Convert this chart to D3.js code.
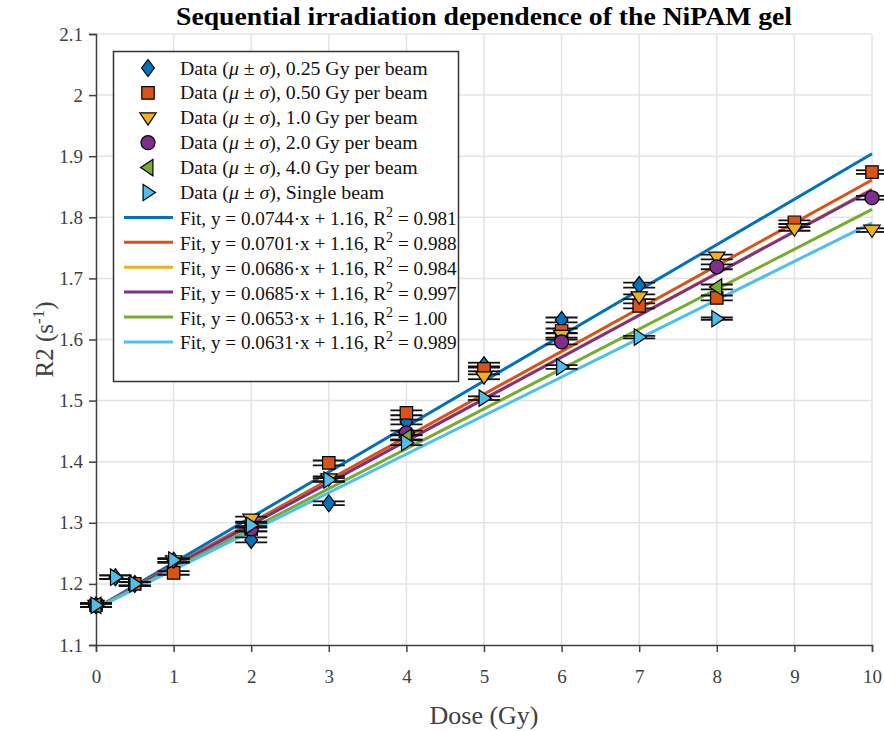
<!DOCTYPE html>
<html>
<head>
<meta charset="utf-8">
<script src="https://cdn.jsdelivr.net/npm/d3@7"></script>
<style>
	body { margin: 0; background: #fff; }
	svg text { font-family: "Liberation Serif", "Times New Roman", serif; }
</style>
</head>
<body>
<svg id="chart" width="884" height="731"></svg>
<script>

	// ---- data ----
	var seriesNames = [ '0.25 Gy per beam', '0.50 Gy per beam', '1.0 Gy per beam',
			'2.0 Gy per beam', '4.0 Gy per beam', 'Single beam' ],
		seriesColors = [ '#0072BD', '#D95319', '#EDB120', '#7E2F8E', '#77AC30', '#4DBEEE' ],
		seriesSymbols = [ 'diamond', 'square', 'triDown', 'circle', 'triLeft', 'triRight' ];

	var dose025 = [ 0, 0.25, 0.5, 1, 2, 3, 4, 5, 6, 7 ],
		r2025 = [ 1.165, 1.211, 1.200, 1.238, 1.272, 1.332, 1.465, 1.558, 1.632, 1.689 ],
		sd025 = [ 0.003, 0.003, 0.003, 0.003, 0.004, 0.003, 0.004, 0.004, 0.004, 0.004 ];

	var dose050 = [ 0, 0.5, 1, 2, 3, 4, 5, 6, 7, 8, 9, 10 ],
		r2050 = [ 1.165, 1.200, 1.218, 1.290, 1.398, 1.480, 1.552, 1.614, 1.655, 1.668, 1.792, 1.874 ],
		sd050 = [ 0.003, 0.003, 0.003, 0.004, 0.004, 0.004, 0.004, 0.004, 0.004, 0.004, 0.003, 0.003 ];

	var dose10 = [ 0, 1, 2, 3, 4, 5, 6, 7, 8, 9, 10 ],
		r210 = [ 1.165, 1.238, 1.306, 1.372, 1.440, 1.539, 1.607, 1.670, 1.735, 1.781, 1.779 ],
		sd10 = [ 0.003, 0.003, 0.004, 0.004, 0.004, 0.004, 0.004, 0.004, 0.004, 0.003, 0.003 ];

	var dose20 = [ 0, 2, 4, 6, 8, 10 ],
		r220 = [ 1.165, 1.290, 1.447, 1.596, 1.719, 1.832 ],
		sd20 = [ 0.003, 0.004, 0.004, 0.004, 0.004, 0.003 ];

	var dose40 = [ 0, 4, 8 ],
		r240 = [ 1.165, 1.440, 1.686 ],
		sd40 = [ 0.003, 0.004, 0.004 ];

	var doseSingle = [ 0, 0.25, 0.5, 1, 2, 3, 4, 5, 6, 7, 8 ],
		r2Single = [ 1.165, 1.211, 1.200, 1.239, 1.296, 1.370, 1.431, 1.504, 1.555, 1.604, 1.634 ],
		sdSingle = [ 0.003, 0.003, 0.003, 0.003, 0.004, 0.003, 0.004, 0.003, 0.003, 0.002, 0.002 ];

	var fitSlopes = [ 0.0744, 0.0701, 0.0686, 0.0685, 0.0653, 0.0631 ],
		fitIntercept = 1.16,
		fitR2 = [ '0.981', '0.988', '0.984', '0.997', '1.00', '0.989' ];

	var xTicks = [ 0, 1, 2, 3, 4, 5, 6, 7, 8, 9, 10 ],
		yTicks = [ 1.1, 1.2, 1.3, 1.4, 1.5, 1.6, 1.7, 1.8, 1.9, 2, 2.1 ];

	var allDose = [ dose025, dose050, dose10, dose20, dose40, doseSingle ],
		allR2 = [ r2025, r2050, r210, r220, r240, r2Single ],
		allSd = [ sd025, sd050, sd10, sd20, sd40, sdSingle ];

	// ---- layout ----
	var svg = d3.select( '#chart' ),
		plotLeft = 96, plotRight = 872, plotTop = 34, plotBottom = 645,
		axisColor = '#404040',
		capHalf = 16;

	var x = d3.scaleLinear().domain( [ 0, 10 ] ).range( [ plotLeft, plotRight ] ),
		y = d3.scaleLinear().domain( [ 1.1, 2.1 ] ).range( [ plotBottom, plotTop ] );

	/**
	 * marker path centred on 0,0
	 * @param	{String}	kind
	 * @returns	{String}
	 */
	function markerPath( kind ) {
		var p = d3.path(), r;
		switch ( kind ) {
			case 'diamond':
				r = 8.5;
				p.moveTo( 0, -r ); p.lineTo( r * 0.75, 0 ); p.lineTo( 0, r ); p.lineTo( -r * 0.75, 0 ); p.closePath();
				break;
			case 'square':
				r = 6.2;
				p.rect( -r, -r, 2 * r, 2 * r );
				break;
			case 'circle':
				p.arc( 0, 0, 7, 0, 2 * Math.PI );
				break;
			case 'triDown':
				r = 8.2;
				p.moveTo( -r, -r * 0.6 ); p.lineTo( r, -r * 0.6 ); p.lineTo( 0, r * 0.9 ); p.closePath();
				break;
			case 'triLeft':
				r = 8.2;
				p.moveTo( -r * 0.9, 0 ); p.lineTo( r * 0.6, -r ); p.lineTo( r * 0.6, r ); p.closePath();
				break;
			case 'triRight':
				r = 8.2;
				p.moveTo( r * 0.9, 0 ); p.lineTo( -r * 0.6, -r ); p.lineTo( -r * 0.6, r ); p.closePath();
				break;
		}
		return p.toString();
	}

	// ---- grid ----
	var grid = svg.append( 'g' ).attr( 'class', 'grid' );
	grid.selectAll( 'line.gx' )
		.data( xTicks.slice( 1 ) )
		.enter().append( 'line' )
		.attr( 'x1', function( d ) { return x( d ); } )
		.attr( 'x2', function( d ) { return x( d ); } )
		.attr( 'y1', plotTop ).attr( 'y2', plotBottom )
		.attr( 'stroke', '#e3e3e3' ).attr( 'stroke-width', 1.5 );
	grid.selectAll( 'line.gy' )
		.data( yTicks.slice( 1 ) )
		.enter().append( 'line' )
		.attr( 'y1', function( d ) { return y( d ); } )
		.attr( 'y2', function( d ) { return y( d ); } )
		.attr( 'x1', plotLeft ).attr( 'x2', plotRight )
		.attr( 'stroke', '#e3e3e3' ).attr( 'stroke-width', 1.5 );

	// ---- axes ----
	var xAxis = svg.append( 'g' )
		.attr( 'transform', 'translate(0,' + plotBottom + ')' )
		.call( d3.axisBottom( x ).tickValues( xTicks ).tickSize( 7 ).tickPadding( 18 ).tickFormat( d3.format( 'd' ) ) );
	var yAxis = svg.append( 'g' )
		.attr( 'transform', 'translate(' + plotLeft + ',0)' )
		.call( d3.axisLeft( y ).tickValues( yTicks ).tickSize( 7 ).tickPadding( 6 ).tickFormat( function( d ) { return String( +d.toFixed( 1 ) ); } ) );

	[ xAxis, yAxis ].forEach( function( ax ) {
		ax.select( '.domain' ).attr( 'stroke', axisColor ).attr( 'stroke-width', 1.5 );
		ax.selectAll( '.tick line' ).attr( 'stroke', axisColor ).attr( 'stroke-width', 1.5 );
		ax.selectAll( '.tick text' )
			.attr( 'fill', axisColor )
			.style( 'font-family', '"Liberation Serif", serif' )
			.style( 'font-size', '19px' );
	} );

	// ---- fit lines ----
	var fitLine = d3.line()
		.x( function( d ) { return x( d[ 0 ] ); } )
		.y( function( d ) { return y( d[ 1 ] ); } );

	svg.append( 'g' ).selectAll( 'path' )
		.data( fitSlopes )
		.enter().append( 'path' )
		.attr( 'd', function( s ) { return fitLine( [ [ 0, fitIntercept ], [ 10, fitIntercept + 10 * s ] ] ); } )
		.attr( 'fill', 'none' )
		.attr( 'stroke', function( s, i ) { return seriesColors[ i ]; } )
		.attr( 'stroke-width', 3 );

	// ---- data with error bars ----
	allDose.forEach( function( doses, si ) {
		var pts = doses.map( function( d, i ) {
				return { x: d, v: allR2[ si ][ i ], s: allSd[ si ][ i ] };
			} ),
			g = svg.append( 'g' ).attr( 'class', 'series-' + si ),
			eb = g.selectAll( 'g.eb' ).data( pts ).enter().append( 'g' );

		eb.append( 'line' )
			.attr( 'x1', function( d ) { return x( d.x ); } )
			.attr( 'x2', function( d ) { return x( d.x ); } )
			.attr( 'y1', function( d ) { return y( d.v - d.s ); } )
			.attr( 'y2', function( d ) { return y( d.v + d.s ); } );
		eb.append( 'line' )
			.attr( 'x1', function( d ) { return x( d.x ) - capHalf; } )
			.attr( 'x2', function( d ) { return x( d.x ) + capHalf; } )
			.attr( 'y1', function( d ) { return y( d.v - d.s ); } )
			.attr( 'y2', function( d ) { return y( d.v - d.s ); } );
		eb.append( 'line' )
			.attr( 'x1', function( d ) { return x( d.x ) - capHalf; } )
			.attr( 'x2', function( d ) { return x( d.x ) + capHalf; } )
			.attr( 'y1', function( d ) { return y( d.v + d.s ); } )
			.attr( 'y2', function( d ) { return y( d.v + d.s ); } );
		eb.selectAll( 'line' ).attr( 'stroke', '#111' ).attr( 'stroke-width', 1.8 );

		g.selectAll( 'path.mk' ).data( pts ).enter().append( 'path' )
			.attr( 'class', 'mk' )
			.attr( 'd', markerPath( seriesSymbols[ si ] ) )
			.attr( 'transform', function( d ) { return 'translate(' + x( d.x ) + ',' + y( d.v ) + ')'; } )
			.attr( 'fill', seriesColors[ si ] )
			.attr( 'stroke', '#000' )
			.attr( 'stroke-width', 1.2 );
	} );

	// ---- legend ----
	var legend = svg.append( 'g' ).attr( 'class', 'legend' ),
		rowY = 68, rowH = 24.9;

	legend.append( 'rect' )
		.attr( 'x', 113.5 ).attr( 'y', 51.5 ).attr( 'width', 345 ).attr( 'height', 330 )
		.attr( 'fill', '#fff' ).attr( 'stroke', '#333' ).attr( 'stroke-width', 1.5 );

	seriesNames.forEach( function( name, i ) {
		var cy = rowY + i * rowH,
			t;
		legend.append( 'path' )
			.attr( 'd', markerPath( seriesSymbols[ i ] ) )
			.attr( 'transform', 'translate(148,' + cy + ')' )
			.attr( 'fill', seriesColors[ i ] ).attr( 'stroke', '#000' ).attr( 'stroke-width', 1.2 );
		t = legend.append( 'text' )
			.attr( 'x', 180 ).attr( 'y', cy + 6.5 )
			.style( 'font-size', '19.8px' ).attr( 'fill', '#111' );
		t.append( 'tspan' ).text( 'Data (' );
		t.append( 'tspan' ).style( 'font-style', 'italic' ).text( 'μ' );
		t.append( 'tspan' ).text( ' ± ' );
		t.append( 'tspan' ).style( 'font-style', 'italic' ).text( 'σ' );
		t.append( 'tspan' ).text( '), ' + name );
	} );

	fitSlopes.forEach( function( s, i ) {
		var cy = rowY + ( i + 6 ) * rowH,
			t;
		legend.append( 'line' )
			.attr( 'x1', 124 ).attr( 'x2', 173 ).attr( 'y1', cy ).attr( 'y2', cy )
			.attr( 'stroke', seriesColors[ i ] ).attr( 'stroke-width', 3 );
		t = legend.append( 'text' )
			.attr( 'x', 180 ).attr( 'y', cy + 7.5 )
			.style( 'font-size', '19.2px' ).attr( 'fill', '#111' );
		t.append( 'tspan' ).text( 'Fit, y = ' + s.toFixed( 4 ) + '·x + ' + fitIntercept.toFixed( 2 ) + ', R' );
		t.append( 'tspan' ).attr( 'dy', -8 ).style( 'font-size', '14px' ).text( '2' );
		t.append( 'tspan' ).attr( 'dy', 8 ).text( ' = ' + fitR2[ i ] );
	} );

	// ---- titles ----
	svg.append( 'text' )
		.attr( 'x', ( plotLeft + plotRight ) / 2 ).attr( 'y', 25 )
		.attr( 'text-anchor', 'middle' )
		.attr( 'textLength', 616 ).attr( 'lengthAdjust', 'spacingAndGlyphs' )
		.style( 'font-size', '26px' ).style( 'font-weight', 'bold' )
		.attr( 'fill', '#000' )
		.text( 'Sequential irradiation dependence of the NiPAM gel' );

	svg.append( 'text' )
		.attr( 'x', ( plotLeft + plotRight ) / 2 ).attr( 'y', 724 )
		.attr( 'text-anchor', 'middle' )
		.style( 'font-size', '26px' ).attr( 'fill', axisColor )
		.text( 'Dose (Gy)' );

	var yl = svg.append( 'text' )
		.attr( 'transform', 'translate(53,' + ( ( plotTop + plotBottom ) / 2 ) + ') rotate(-90)' )
		.attr( 'text-anchor', 'middle' )
		.style( 'font-size', '25px' ).attr( 'fill', axisColor );
	yl.append( 'tspan' ).text( 'R2 (s' );
	yl.append( 'tspan' ).attr( 'dy', -9 ).style( 'font-size', '17px' ).text( '-1' );
	yl.append( 'tspan' ).attr( 'dy', 9 ).text( ')' );

</script>
</body>
</html>
